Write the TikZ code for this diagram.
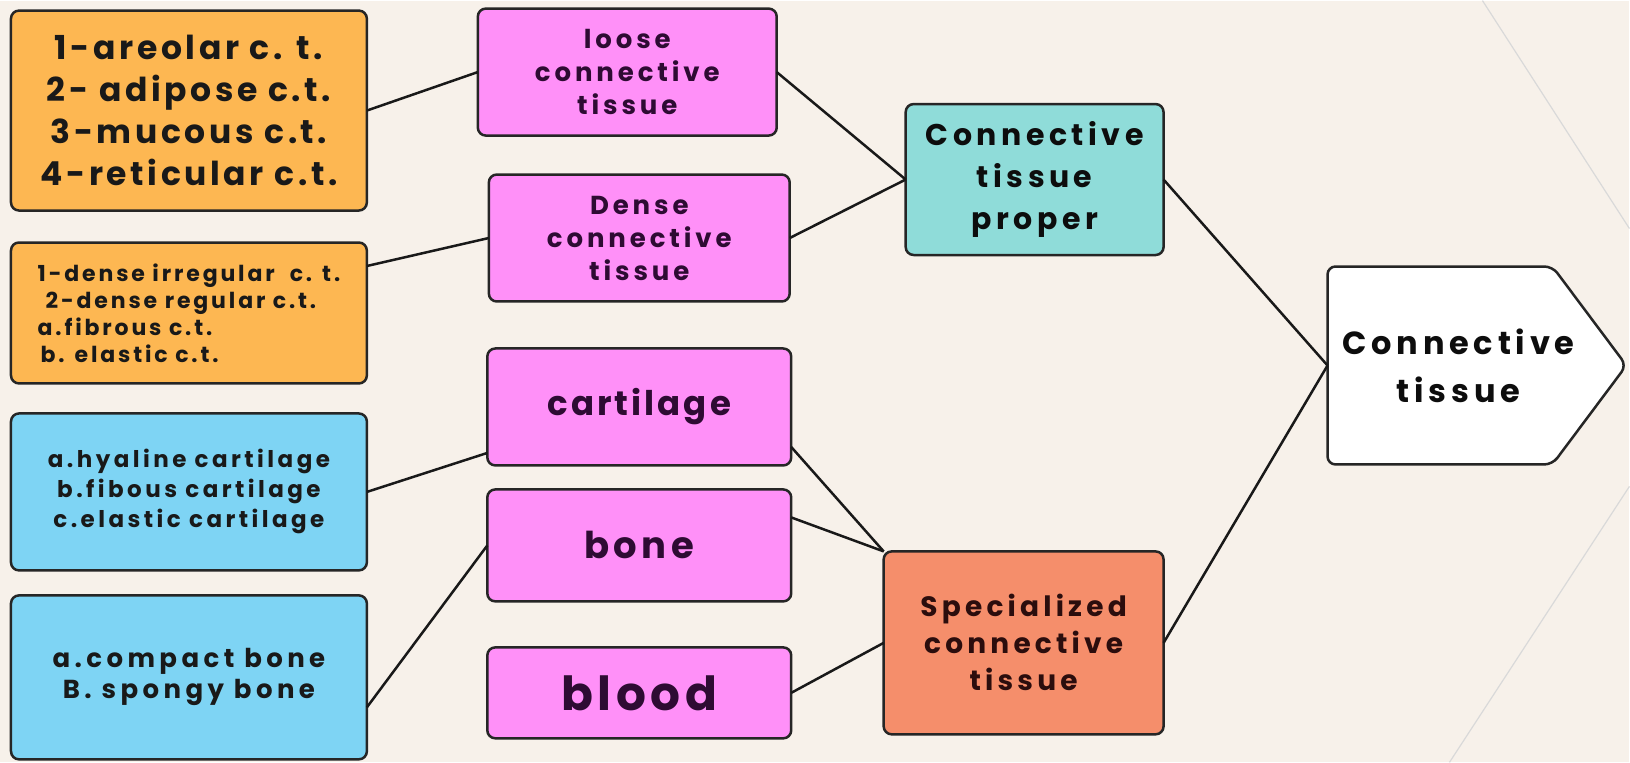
\documentclass[tikz,border=0pt]{standalone}
\usepackage{fontspec}
\setmainfont{Poppins}
\usepackage{xcolor}
\usetikzlibrary{positioning,backgrounds}

\definecolor{bgcream}{HTML}{F7F1EA}
\definecolor{orangebox}{HTML}{FDB752}
\definecolor{pinkbox}{HTML}{FF90F8}
\definecolor{bluebox}{HTML}{7ED4F4}
\definecolor{tealbox}{HTML}{8FDCD9}
\definecolor{salmonbox}{HTML}{F58E6B}
\definecolor{pinktext}{HTML}{2E0B33}
\definecolor{salmontext}{HTML}{2B0D0D}

\begin{document}
\begin{tikzpicture}[x=1pt, y=-1pt,
    box/.style={rectangle, draw=black!85, line width=2.5pt, rounded corners=8pt, align=center, inner sep=0pt, outer sep=0pt},
    sublist/.style={box, minimum width=356pt, text=black!90},
    tissue/.style={box, fill=pinkbox, text=pinktext},
    group/.style={box, text=black!95},
    line/.style={draw, line width=2.5pt, color=black!90}
]
    \begin{scope}[on background layer]
        \fill [bgcream] (0,0) rectangle (1630,762);
        \draw [color=black!15, line width=1.2pt] (1483,0) -- (1630,228);
        \draw [color=black!15, line width=1.2pt] (1450,762) -- (1630,486);
    \end{scope}
    \useasboundingbox (0,0) rectangle (1630,762);

    % Sub-type lists
    \node [sublist, fill=orangebox, minimum height=200pt, font={\fontsize{33}{42}\selectfont\bfseries\addfontfeature{LetterSpace=11}}] (areolar) at (189,110) {1-areolar c. t.\\2- adipose c.t.\\3-mucous c.t.\\4-reticular c.t.};
    \node [sublist, fill=orangebox, minimum height=141pt, align=left, font={\fontsize{22}{27}\selectfont\bfseries\addfontfeature{LetterSpace=13}}, below=32pt of areolar] (denselist) {1-dense irregular\ \ c. t.\\\hspace*{8pt}2-dense regular c.t.\\a.fibrous c.t.\\\hspace*{3pt}b. elastic c.t.};
    \node [sublist, fill=bluebox, minimum height=157pt, font={\fontsize{23}{30}\selectfont\bfseries\addfontfeature{LetterSpace=15}}, below=30pt of denselist] (cartlist) {a.hyaline cartilage\\b.fibous cartilage\\c.elastic cartilage};
    \node [sublist, fill=bluebox, minimum height=164pt, font={\fontsize{26}{31}\selectfont\bfseries\addfontfeature{LetterSpace=17}}, below=25pt of cartlist] (bonelist) {a.compact bone\\B. spongy bone};

    % Tissue kinds
    \node [tissue, minimum width=299pt, minimum height=127pt, font={\fontsize{26}{33}\selectfont\bfseries\addfontfeature{LetterSpace=15}}] (loose) at (627.5,71.5) {loose\\connective\\tissue};
    \node [tissue, minimum width=301pt, minimum height=127pt, font={\fontsize{26}{33}\selectfont\bfseries\addfontfeature{LetterSpace=15}}, below=39pt of loose, xshift=12pt] (dense) {Dense\\connective\\tissue};
    \node [tissue, minimum width=304pt, minimum height=117pt, font={\fontsize{34}{38}\selectfont\bfseries\addfontfeature{LetterSpace=9}}, below=47pt of dense] (cartilage) {cartilage};
    \node [tissue, minimum width=304pt, minimum height=112pt, font={\fontsize{37}{40}\selectfont\bfseries\addfontfeature{LetterSpace=12}}, below=24pt of cartilage] (bone) {bone};
    \node [tissue, minimum width=304pt, minimum height=91pt, font={\fontsize{47}{50}\selectfont\bfseries\addfontfeature{LetterSpace=10}}, below=46pt of bone] (blood) {blood};

    % Main groups
    \node [group, fill=tealbox, minimum width=258pt, minimum height=151pt, font={\fontsize{30}{42}\selectfont\bfseries\addfontfeature{LetterSpace=15}}] (proper) at (1035,179) {Connective\\tissue\\proper};
    \node [group, fill=salmonbox, text=salmontext, minimum width=280pt, minimum height=183pt, font={\fontsize{28}{37}\selectfont\bfseries\addfontfeature{LetterSpace=15}}] (special) at (1024,642.5) {Specialized\\connective\\tissue};
    \node [group, draw=none, minimum width=262pt, minimum height=198pt, font={\fontsize{32}{48}\selectfont\bfseries\addfontfeature{LetterSpace=15}}] (ct) at (1459,365) {Connective\\tissue};
    \begin{scope}[on background layer]
        \draw [fill=white, draw=black!85, line width=2.5pt, rounded corners=8pt] (ct.north west) -- ([xshift=-37pt]ct.north east) -- ([xshift=37pt]ct.east) -- ([xshift=-37pt]ct.south east) -- (ct.south west) -- cycle;
    \end{scope}

    % Links
    \path [line] (areolar.east) -- (loose.west);
    \path [line] ([yshift=47pt]denselist.east) -- (dense.west);
    \path [line] (cartlist.east) -- ([yshift=-46pt]cartilage.west);
    \path [line] ([yshift=-30pt]bonelist.east) -- (bone.west);

    \path [line] (loose.east) -- (proper.west);
    \path [line] (dense.east) -- (proper.west);
    \path [line] ([yshift=-40pt]cartilage.east) -- (special.north west);
    \path [line] ([yshift=28pt]bone.east) -- (special.north west);
    \path [line] (blood.east) -- (special.west);

    \path [line] (proper.east) -- (ct.west);
    \path [line] (special.east) -- (ct.west);
\end{tikzpicture}
\end{document}
